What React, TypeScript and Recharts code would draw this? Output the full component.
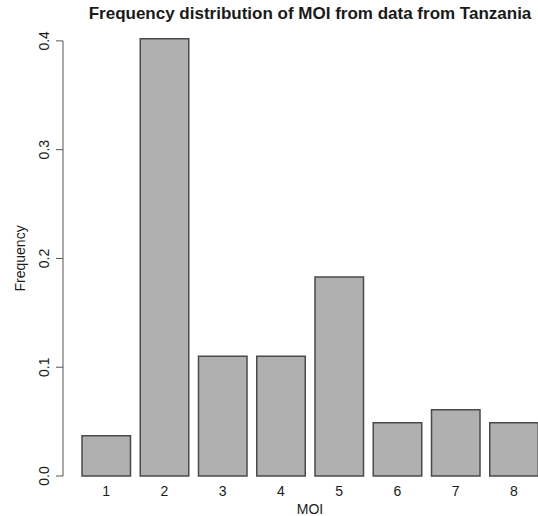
import React from 'react';
import { BarChart, Bar, XAxis, YAxis, ReferenceLine } from 'recharts';

const moiCategories = ['1', '2', '3', '4', '5', '6', '7', '8'];
const frequencies = [0.037, 0.402, 0.11, 0.11, 0.183, 0.049, 0.061, 0.049];
const yTicks = [0, 0.1, 0.2, 0.3, 0.4];
const chartTitle = 'Frequency distribution of MOI from data from Tanzania';
const xTitle = 'MOI';
const yTitle = 'Frequency';

const data = moiCategories.map((moi, i) => ({ moi, freq: frequencies[i] }));

const FONT = '"Liberation Sans", Arial, Helvetica, sans-serif';
const TEXT = '#1a1a1a';
const LINE = '#555555';
const Y_MAX = 0.41;

const YTick = (props: any) => {
  const { x, y, payload } = props;
  const cx = x - 12;
  return (
    <text
      x={cx}
      y={y}
      transform={`rotate(-90, ${cx}, ${y})`}
      textAnchor="middle"
      dominantBaseline="central"
      fontFamily={FONT}
      fontSize={14}
      fill={TEXT}
    >
      {Number(payload.value).toFixed(1)}
    </text>
  );
};

const XTick = (props: any) => {
  const { x, y, payload } = props;
  return (
    <text x={x} y={y + 15} textAnchor="middle" dominantBaseline="central" fontFamily={FONT} fontSize={14} fill={TEXT}>
      {payload.value}
    </text>
  );
};

const YTitle = (props: any) => {
  const vb = props.viewBox;
  const cx = vb.x + 20;
  const cy = vb.y + vb.height - vb.height * (0.2 / Y_MAX);
  return (
    <text
      x={cx}
      y={cy}
      transform={`rotate(-90, ${cx}, ${cy})`}
      textAnchor="middle"
      dominantBaseline="central"
      fontFamily={FONT}
      fontSize={14}
      fill={TEXT}
    >
      {yTitle}
    </text>
  );
};

const XTitle = (props: any) => {
  const vb = props.viewBox;
  const cx = vb.x + 14 + (vb.width - 14) / 2;
  return (
    <text x={cx} y={vb.y + 32.5} textAnchor="middle" dominantBaseline="central" fontFamily={FONT} fontSize={14} fill={TEXT}>
      {xTitle}
    </text>
  );
};

export default function App() {
  return (
    <div style={{ position: 'relative', width: 538, height: 516, background: '#ffffff' }}>
      <style>{'body{margin:0;background:#fff}'}</style>
      <div
        style={{
          position: 'absolute',
          left: 82,
          top: 3,
          width: 456,
          textAlign: 'center',
          fontFamily: FONT,
          fontWeight: 'bold',
          fontSize: 17,
          color: TEXT,
          lineHeight: '22px',
          whiteSpace: 'nowrap',
        }}
      >
        {chartTitle}
      </div>
      <BarChart
        width={538}
        height={516}
        data={data}
        margin={{ top: 30, right: -5, bottom: 0, left: 0 }}
        barSize={48.5}
      >
        <XAxis
          dataKey="moi"
          axisLine={false}
          tickLine={false}
          tickSize={0}
          tickMargin={0}
          height={40}
          padding={{ left: 14, right: 0 }}
          tick={<XTick />}
          interval={0}
          label={<XTitle />}
        />
        <XAxis xAxisId="frame" type="number" domain={[0, 1]} allowDataOverflow hide />
        <YAxis
          width={63}
          domain={[0, Y_MAX]}
          ticks={yTicks}
          axisLine={false}
          tickLine={{ stroke: LINE, strokeWidth: 1 }}
          tickSize={7}
          tickMargin={0}
          tick={<YTick />}
          label={<YTitle />}
        />
        <ReferenceLine
          xAxisId="frame"
          segment={[
            { x: 0, y: yTicks[0] },
            { x: 0, y: yTicks[yTicks.length - 1] },
          ]}
          stroke={LINE}
          strokeWidth={1}
          ifOverflow="visible"
        />
        <Bar dataKey="freq" fill="#b0b0b0" stroke="#4a4a4a" strokeWidth={1.5} isAnimationActive={false} />
      </BarChart>
    </div>
  );
}
